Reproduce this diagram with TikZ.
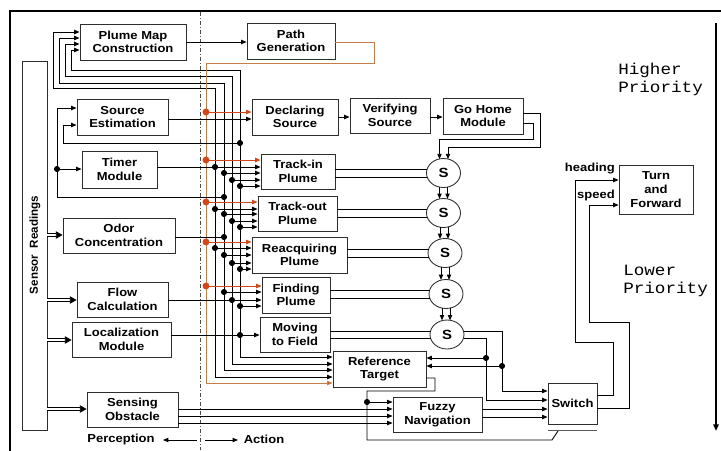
\documentclass[tikz,border=0pt]{standalone}
\usepackage{fontspec}
\newfontfamily\lab{Liberation Sans}[FakeStretch=1.12]
\newfontfamily\labn{Liberation Sans}
\newfontfamily\mono{Liberation Mono}[FakeStretch=1.12]
\usetikzlibrary{arrows.meta,shapes.geometric,calc}
\definecolor{orgline}{RGB}{200,125,70}
\definecolor{orgdot}{RGB}{210,70,25}
\definecolor{boxc}{RGB}{45,45,45}
\begin{document}
\begin{tikzpicture}[x=0.75pt,y=-0.75pt,
  box/.style 2 args={draw=boxc, line width=0.65pt, inner sep=0pt, align=center, minimum width=#1, minimum height=#2, font=\lab\bfseries\fontsize{8.7}{10.2}\selectfont},
  wire/.style={line width=0.65pt},
  ar/.style={wire,-{Triangle[length=4pt,width=3.2pt]}},
  bar/.style={wire,{Triangle[length=4pt,width=3.2pt]}-{Triangle[length=4pt,width=3.2pt]}},
  oar/.style={line width=0.65pt, draw=orgdot, -{Triangle[length=4pt,width=3.2pt]}},
  dbl/.style={double, double distance=1.3pt, line width=0.55pt, -{Triangle[length=5pt,width=5.5pt]}},
  lbl/.style={font=\lab\bfseries\fontsize{8.7}{10.2}\selectfont, inner sep=0pt},
  pri/.style={font=\mono\fontsize{11.8}{13.5}\selectfont, inner sep=0pt, align=left, anchor=west},
  sel/.style={ellipse, draw=boxc, line width=0.65pt, fill=white, minimum width=25.5pt, minimum height=21.75pt, inner sep=0pt, font=\lab\bfseries\fontsize{10}{12}\selectfont},
]
\useasboundingbox (0,0) rectangle (721,450);
% frame and divider
\draw[line width=1.8pt] (10,451) -- (10,11) -- (722,11);
\draw[gray!60!black, line width=0.65pt, dash pattern=on 3pt off 1.5pt on 0.8pt off 1.5pt] (200,12) -- (200,450);

% nodes
\node[box={18.75pt}{276.75pt}] (SR) at (34.5,245.5) {};
\node[rotate=90, inner sep=0pt, font=\labn\bfseries\fontsize{8.7}{10}\selectfont] (SRt) at (35,245) {Sensor\hspace{5pt}Readings};
\node[box={79.5pt}{27pt}] (PMC) at (133,42) {Plume Map\\Construction};
\node[box={66pt}{27pt}] (PG) at (291,41) {Path\\Generation};
\node[box={68.25pt}{27pt}] (SE) at (122.5,117) {Source\\Estimation};
\node[box={64.5pt}{27pt}] (DS) at (295,117) {Declaring\\Source};
\node[box={60pt}{26.25pt}] (VS) at (390,115.5) {Verifying\\Source};
\node[box={60pt}{27pt}] (GH) at (483,116) {Go Home\\Module};
\node[box={56.25pt}{27.75pt}] (TM) at (119.5,169.5) {Timer\\Module};
\node[box={84pt}{26.25pt}] (OC) at (119,235.5) {Odor\\Concentration};
\node[box={68.25pt}{26.25pt}] (FC) at (122.5,299.5) {Flow\\Calculation};
\node[box={74.25pt}{26.25pt}] (LM) at (121.5,339.5) {Localization\\Module};
\node[box={68.25pt}{26.25pt}] (SO) at (132.5,409.5) {Sensing\\Obstacle};
\node[box={55.5pt}{26.25pt}] (TI) at (298,171.5) {Track-in\\Plume};
\node[box={59.25pt}{26.25pt}] (TO) at (297.5,213.5) {Track-out\\Plume};
\node[box={71.25pt}{27pt}] (RP) at (299.5,255) {Reacquiring\\Plume};
\node[box={51pt}{27pt}] (FP) at (296,295) {Finding\\Plume};
\node[box={52.5pt}{26.25pt}] (MF) at (295,334.5) {Moving\\to Field};
\node[box={69.75pt}{27pt}] (RT) at (379.5,369) {Reference\\Target};
\node[box={66.75pt}{26.25pt}] (FN) at (437.5,414.5) {Fuzzy\\Navigation};
\node[box={36.75pt}{30.75pt}] (SW) at (572.5,403.5) {Switch};
\node[box={55.5pt}{36.75pt}] (TF) at (656,189.5) {Turn\\and\\Forward};

\node[sel] (S1) at (443.5,173) {S};
\node[sel] (S2) at (443.5,213) {S};
\node[sel] (S3) at (445,253) {S};
\node[sel] (S4) at (446,294) {S};
\node[sel] (S5) at (447,334.5) {S};

\node[lbl, anchor=east] (hd) at (615,169) {heading};
\node[lbl, anchor=east] (sp) at (615,195) {speed};
\node[pri] (hp) at (618,79) {Higher\\Priority};
\node[pri] (lp) at (623,281) {Lower\\Priority};
\node[lbl] (perc) at (121,439) {Perception};
\node[lbl] (act) at (264,439) {Action};

\draw[ar] (197,440) -- (163,440);
\draw[ar] (205,440) -- (238,440);
\draw[line width=1.3pt, -{Triangle[length=5pt,width=4pt]}] (716,23) -- (716,431);

% sensor readings double arrows
\draw[dbl] (SR.east |- 0,235) -- (OC.west |- 0,235);
\draw[dbl] (SR.east |- 0,300) -- (FC.west |- 0,300);
\draw[dbl] (SR.east |- 0,340) -- (LM.west |- 0,340);
\draw[dbl] (SR.east |- 0,409) -- (SO.west |- 0,409);

% bus loops
\draw[bar] (PMC.west |- 0,32) -- (53,32) -- (53,88) -- (215,88) -- (215,377) -- (RT.west |- 0,377);
\draw[bar] (PMC.west |- 0,38) -- (59,38) -- (59,83) -- (224,83) -- (224,370) -- (RT.west |- 0,370);
\draw[bar] (PMC.west |- 0,44) -- (65,44) -- (65,76) -- (232,76) -- (232,364) -- (RT.west |- 0,364);
\draw[bar] (PMC.west |- 0,50) -- (71,50) -- (71,70) -- (240,70) -- (240,357) -- (RT.west |- 0,357);
\draw[line width=0.65pt, draw=orgline, -{Triangle[length=4pt,width=3.2pt,fill=orgdot]}] (PG.east |- 0,42) -- (374,42) -- (374,63) -- (206,63) -- (206,383) -- (RT.west |- 0,383);

% source estimation feedback
\draw[ar] (224,197) -- (57,197) -- (57,108) -- (SE.west |- 0,108);
\draw[ar] (57,169) -- (TM.west |- 0,169);
\draw[ar] (240,143) -- (63,143) -- (63,125) -- (SE.west |- 0,125);

% module outputs
\draw[ar] (PMC.east |- 0,42) -- (PG.west |- 0,42);
\draw[ar] (SE.east |- 0,119) -- (DS.west |- 0,119);
\draw[ar] (DS.east |- 0,117) -- (VS.west |- 0,117);
\draw[ar] (VS.east |- 0,117) -- (GH.west |- 0,117);
\draw[ar] (TM.east |- 0,167) -- (TI.west |- 0,167);
\draw[wire] (OC.east |- 0,237) -- (224,237);
\draw[ar] (FC.east |- 0,300) -- (FP.west |- 0,300);
\draw[ar] (LM.east |- 0,335) -- (MF.west |- 0,335);

% bus taps
\foreach \x/\y in {224/173, 232/180, 240/186} \draw[ar] (\x,\y) -- (TI.west |- 0,\y);
\foreach \x/\y in {215/209, 224/214, 232/221, 240/227} \draw[ar] (\x,\y) -- (TO.west |- 0,\y);
\foreach \x/\y in {215/248, 224/255, 232/263, 240/269} \draw[ar] (\x,\y) -- (RP.west |- 0,\y);
\foreach \x/\y in {224/292, 240/306} \draw[ar] (\x,\y) -- (FP.west |- 0,\y);
\foreach \x/\y in {215/167, 215/209, 215/248, 224/173, 224/197, 224/214, 224/237, 224/255, 224/292, 232/180, 232/221, 232/263, 232/300, 240/143, 240/186, 240/227, 240/269, 240/306, 240/335, 57/169}
  \fill (\x,\y) circle (2.3pt);

% orange taps
\draw[oar] (206,112) -- (DS.west |- 0,112);
\draw[oar] (206,160) -- (TI.west |- 0,160);
\draw[oar] (206,202) -- (TO.west |- 0,202);
\draw[oar] (206,242) -- (RP.west |- 0,242);
\draw[oar] (206,286) -- (FP.west |- 0,286);
\foreach \y in {112,160,202,242,286} \fill[orgdot] (206,\y) circle (2.6pt);

% behaviours to suppressors
\draw[wire] (TI.east |- 0,169) -- (427.2,169);
\draw[wire] (TI.east |- 0,177) -- (427.2,177);
\draw[wire] (TO.east |- 0,209) -- (427.2,209);
\draw[wire] (TO.east |- 0,217) -- (427.2,217);
\draw[wire] (RP.east |- 0,249) -- (428.7,249);
\draw[wire] (RP.east |- 0,257) -- (428.7,257);
\draw[wire] (FP.east |- 0,290) -- (429.7,290);
\draw[wire] (FP.east |- 0,298) -- (429.7,298);
\draw[wire] (MF.east |- 0,331) -- (430.5,331);
\draw[wire] (MF.east |- 0,338) -- (430.5,338);

% suppressor chain
\draw[ar] (439.5,187.1) -- (439.5,198.9);
\draw[ar] (447.5,187.1) -- (447.5,198.9);
\draw[ar] (440,227.1) -- (440,238.9);
\draw[ar] (448,227.1) -- (448,238.9);
\draw[ar] (441,267.1) -- (441,279.9);
\draw[ar] (449,267.1) -- (449,279.9);
\draw[ar] (442,308.1) -- (442,320.4);
\draw[ar] (450,308.1) -- (450,320.4);

% go home
\draw[ar] (GH.east |- 0,113) -- (540,113) -- (540,147) -- (448,147) -- (448,159.2);
\draw[ar] (GH.east |- 0,123) -- (533,123) -- (533,139) -- (439.5,139) -- (439.5,159.2);

% S5 outputs
\draw[ar] (463.5,331) -- (502,331) -- (502,391) -- (SW.west |- 0,391);
\draw[ar] (463.5,338) -- (486,338) -- (486,400) -- (SW.west |- 0,400);
\draw[ar] (502,366) -- (RT.east |- 0,366);
\draw[ar] (486,358) -- (RT.east |- 0,358);
\fill (502,366) circle (2.3pt);
\fill (486,358) circle (2.3pt);

% fuzzy and switch
\draw[ar] (FN.east |- 0,409) -- (SW.west |- 0,409);
\draw[ar] (FN.east |- 0,417) -- (SW.west |- 0,417);
\draw[ar] (SW.east |- 0,395) -- (613,395) -- (613,342) -- (575,342) -- (575,180) -- (TF.west |- 0,180);
\draw[ar] (SW.east |- 0,408) -- (629,408) -- (629,322) -- (589,322) -- (589,205) -- (TF.west |- 0,205);

% reference target to fuzzy
\draw[wire] (RT.east |- 0,378) -- (435,378) -- (435,391) -- (367,391) -- (367,440) -- (552,440) -- (558,431);
\draw[ar] (367,402) -- (FN.west |- 0,402);
\fill (367,402) circle (2.3pt);
\draw[wire, gray!70!black] (548,430) -- (597,430);

% sensing obstacle
\foreach \y in {409,416,423} \draw[ar] (SO.east |- 0,\y) -- (FN.west |- 0,\y);
\end{tikzpicture}
\end{document}
